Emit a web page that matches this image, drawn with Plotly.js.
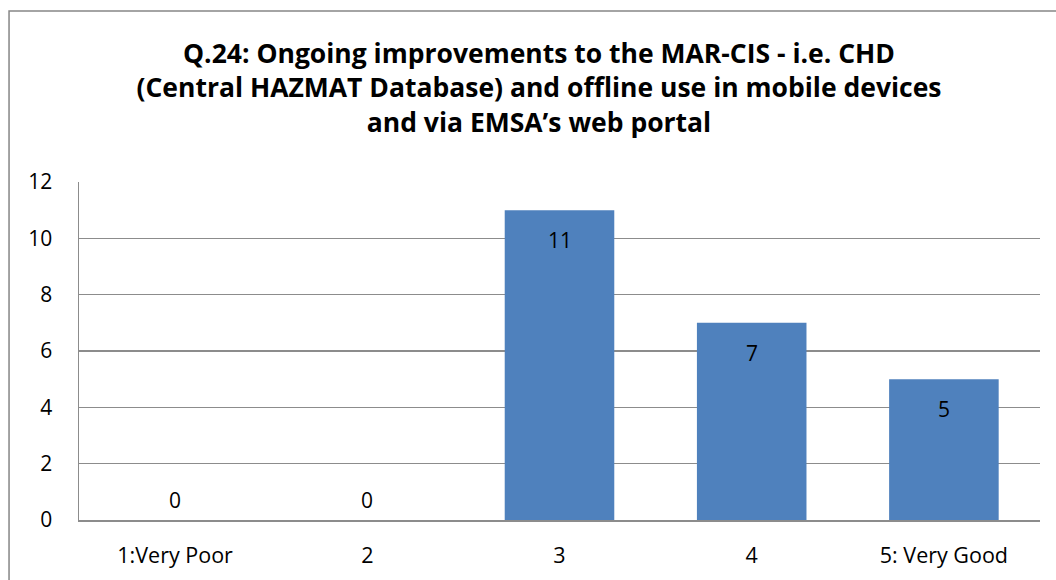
<!DOCTYPE html>
<html><head><meta charset="utf-8">
<script src="https://cdn.plot.ly/plotly-3.0.1.min.js"></script>
<style>html,body{margin:0;padding:0;background:#fff}#chart{width:1056px;height:580px}</style>
</head><body><div id="chart"></div>
<script>
const categories = ["1:Very Poor", "2", "3", "4", "5: Very Good"];
const counts = [0, 0, 11, 7, 5];
const yTicks = [0, 2, 4, 6, 8, 10, 12];
const titleText = "Q.24: Ongoing improvements to the MAR-CIS - i.e. CHD<br>(Central HAZMAT Database) and offline use in mobile devices<br>and via EMSA’s web portal";

const FONT = "'Open Sans', sans-serif";
const grid = "#8c8c8c";

const labels = categories.map((c, i) => ({
  x: i, y: counts[i], xref: "x", yref: "y",
  text: String(counts[i]), showarrow: false,
  yanchor: "middle", yshift: counts[i] > 0 ? -30 : 20,
  font: {family: FONT, size: 21, color: "#000"}
}));

const data = [{
  type: "bar", x: categories, y: counts,
  marker: {color: "#4f81bd"}, hoverinfo: "x+y"
}];

const layout = {
  width: 1056, height: 580,
  margin: {l: 79, r: 16, t: 182, b: 60},
  paper_bgcolor: "#fff", plot_bgcolor: "#fff",
  bargap: 0.43,
  showlegend: false,
  title: {text: titleText, x: 0.5104, xanchor: "center", y: 0.892, yanchor: "middle",
    font: {family: FONT, size: 26.5, color: "#000", weight: "bold"}},
  font: {family: FONT, size: 21, color: "#000"},
  xaxis: {type: "category", showgrid: false, showline: true, linecolor: grid, linewidth: 1.5,
    ticks: "", ticklabelstandoff: 16, tickfont: {family: FONT, size: 21.5, color: "#000"}, fixedrange: true},
  yaxis: {range: [0, 12], tickvals: yTicks, showgrid: true, gridcolor: grid, gridwidth: 1.5,
    showline: true, linecolor: grid, linewidth: 1.5, zeroline: false, ticks: "",
    ticklabelstandoff: 21, tickfont: {family: FONT, size: 21, color: "#000"}, fixedrange: true},
  annotations: labels,
  shapes: [{type: "rect", xref: "paper", yref: "paper", x0: -0.0728, x1: 1.2, y0: -0.5, y1: 1.506,
    line: {color: "#868686", width: 1.5}, fillcolor: "rgba(0,0,0,0)", layer: "below"}]
};

Plotly.newPlot("chart", data, layout, {displayModeBar: false, staticPlot: true});
</script></body></html>
